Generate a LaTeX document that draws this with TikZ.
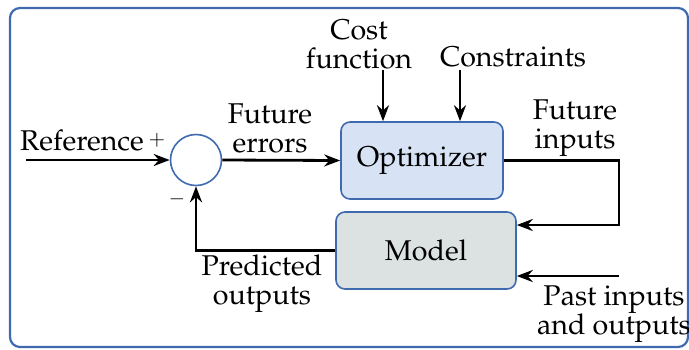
\documentclass[tikz,border=0pt]{standalone}
\usepackage[T1]{fontenc}
\usepackage{mathpazo}
\usepackage{tikz}
\usetikzlibrary{positioning,arrows.meta,calc}
\usepackage{xcolor}
\definecolor{FrameBlue}{HTML}{3F6AB0}
\definecolor{OptFill}{HTML}{D7E3F4}
\definecolor{ModelFill}{HTML}{DCE1E1}

\begin{document}
\begin{tikzpicture}[
				x=0.5pt,y=-0.5pt,
				font=\fontsize{14.3}{14.5}\selectfont,
				blockbox/.style={
					draw=FrameBlue,
					rounded corners=4.5pt,
					line width=0.8pt,
					minimum height=38.5pt,
					align=center,
					inner sep=0pt
				},
				sumnode/.style={
					circle,
					draw=FrameBlue,
					fill=white,
					line width=0.8pt,
					minimum size=25.5pt,
					inner sep=0pt
				},
				lbl/.style={
					align=center,
					inner sep=0pt
				},
				arr/.style={
					-{Stealth[length=8pt,width=6pt]},
					draw=black,
					line width=1.4pt
				}
				]
				
				\useasboundingbox (0,0) rectangle (689,349);
				\draw[FrameBlue, line width=1.1pt, rounded corners=5pt]
				(10,8) rectangle (688,347);
				
				\node[sumnode] (sum) at (196,160) {};
				
				\node[
				blockbox,
				fill=OptFill,
				minimum width=81pt
				] (opt) at (422,160.5) {Optimizer};
				
				\node[
				blockbox,
				fill=ModelFill,
				minimum width=90pt
				] (model) at (426,250.5) {Model};
				
				\coordinate (refin) at (26,160);
				\coordinate (costin) at (383,70);
				\coordinate (consin) at (460,70);
				\coordinate (fbturn) at (619,225);
				\coordinate (pastin) at (619,276);
				
				\node[lbl] (reflbl) at (82,140) {Reference};
				\node[lbl, font=\fontsize{10}{11}\selectfont] (plus) at (157,140) {$+$};
				\node[lbl, font=\fontsize{10}{11}\selectfont] (minus) at (177,199) {$-$};
				\node[lbl] (errlbl) at (270,128) {Future\\errors};
				\node[lbl] (costlbl) at (359,44) {Cost\\function};
				\node[lbl, anchor=base] (conslbl) at (513,66) {Constraints};
				\node[lbl] (inlbl) at (575,128) {Future\\inputs};
				\node[lbl] (predlbl) at (262,284) {Predicted\\outputs};
				\node[lbl] (pastlbl) at (614,314) {Past inputs\\and outputs};
				
				\draw[arr] (refin) -- (sum.west);
				\draw[arr] (sum.east) -- (opt.west);
				\draw[arr] (costin) -- (costin |- opt.north);
				\draw[arr] (consin) -- (consin |- opt.north);
				\draw[arr] (opt.east) -| (fbturn) -- (fbturn -| model.east);
				\draw[arr] (pastin) -- (pastin -| model.east);
				\draw[arr] (model.west) -| (sum.south);
				
			\end{tikzpicture}
\end{document}
